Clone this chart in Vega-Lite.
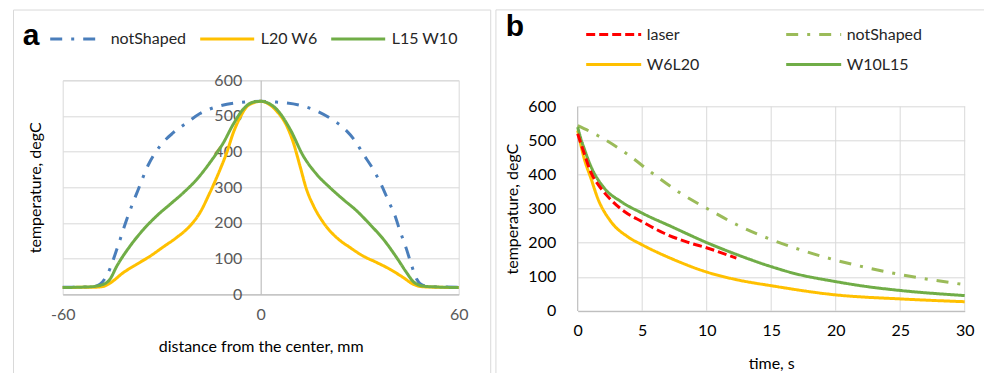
{
  "$schema": "https://vega.github.io/schema/vega-lite/v6.json",
  "background": "white",
  "padding": {"left": 11.7, "top": 8.3, "right": 0, "bottom": 0},
  "autosize": {"type": "pad"},
  "config": {
    "font": "Lato",
    "view": {"stroke": "#D9D9D9", "strokeWidth": 1},
    "axis": {
      "labelFont": "Lato", "titleFont": "Lato",
      "labelFontSize": 16, "titleFontSize": 16, "titleFontWeight": "normal",
      "titleColor": "#000000", "domainColor": "#BFBFBF", "domainWidth": 1.2,
      "gridColor": "#D9D9D9", "gridWidth": 1, "ticks": false, "tickSize": 0,
      "labelOverlap": false, "labelFlush": false, "labelExpr": "'' + datum.value"
    },
    "legend": {"padding": 0, "labelFont": "Lato", "labelFontSize": 16, "labelColor": "#262626"}
  },
  "datasets": {
    "profile": [
      {"x": -60, "T": 20, "s": "notShaped"}, {"x": -55, "T": 20, "s": "notShaped"}, {"x": -50.5, "T": 22, "s": "notShaped"},
      {"x": -48.7, "T": 28, "s": "notShaped"}, {"x": -46.2, "T": 61, "s": "notShaped"}, {"x": -43.6, "T": 126, "s": "notShaped"},
      {"x": -40.6, "T": 210, "s": "notShaped"}, {"x": -37.1, "T": 294, "s": "notShaped"}, {"x": -34, "T": 364, "s": "notShaped"},
      {"x": -30.5, "T": 416, "s": "notShaped"}, {"x": -26.5, "T": 453, "s": "notShaped"}, {"x": -22.4, "T": 481, "s": "notShaped"},
      {"x": -18.4, "T": 507, "s": "notShaped"}, {"x": -13.3, "T": 526, "s": "notShaped"}, {"x": -7.3, "T": 537, "s": "notShaped"},
      {"x": 0, "T": 541, "s": "notShaped"}, {"x": 4.8, "T": 539, "s": "notShaped"}, {"x": 11.9, "T": 530, "s": "notShaped"},
      {"x": 17, "T": 514, "s": "notShaped"}, {"x": 21.5, "T": 491, "s": "notShaped"}, {"x": 25.5, "T": 463, "s": "notShaped"},
      {"x": 28.6, "T": 430, "s": "notShaped"}, {"x": 31.1, "T": 393, "s": "notShaped"}, {"x": 34.1, "T": 350, "s": "notShaped"},
      {"x": 36.7, "T": 304, "s": "notShaped"}, {"x": 38.7, "T": 262, "s": "notShaped"}, {"x": 40.7, "T": 220, "s": "notShaped"},
      {"x": 42.2, "T": 178, "s": "notShaped"}, {"x": 44.2, "T": 126, "s": "notShaped"}, {"x": 45.8, "T": 79, "s": "notShaped"},
      {"x": 47.3, "T": 42, "s": "notShaped"}, {"x": 49.3, "T": 25, "s": "notShaped"}, {"x": 53.3, "T": 21, "s": "notShaped"},
      {"x": 60, "T": 20, "s": "notShaped"},

      {"x": -60, "T": 19, "s": "L20 W6"}, {"x": -55, "T": 19.5, "s": "L20 W6"}, {"x": -50, "T": 20, "s": "L20 W6"},
      {"x": -47.7, "T": 22, "s": "L20 W6"}, {"x": -45.7, "T": 31, "s": "L20 W6"}, {"x": -41.6, "T": 61, "s": "L20 W6"},
      {"x": -37.6, "T": 84, "s": "L20 W6"}, {"x": -33.5, "T": 107, "s": "L20 W6"}, {"x": -29.5, "T": 133, "s": "L20 W6"},
      {"x": -25.5, "T": 159, "s": "L20 W6"}, {"x": -21.4, "T": 192, "s": "L20 W6"}, {"x": -18.4, "T": 229, "s": "L20 W6"},
      {"x": -15.4, "T": 285, "s": "L20 W6"}, {"x": -12.3, "T": 350, "s": "L20 W6"}, {"x": -10.3, "T": 397, "s": "L20 W6"},
      {"x": -8.3, "T": 453, "s": "L20 W6"}, {"x": -6.3, "T": 495, "s": "L20 W6"}, {"x": -3.7, "T": 530, "s": "L20 W6"},
      {"x": 0, "T": 541, "s": "L20 W6"}, {"x": 4.8, "T": 514, "s": "L20 W6"}, {"x": 7.9, "T": 472, "s": "L20 W6"},
      {"x": 9.9, "T": 425, "s": "L20 W6"}, {"x": 11.9, "T": 360, "s": "L20 W6"}, {"x": 13.9, "T": 294, "s": "L20 W6"},
      {"x": 16, "T": 248, "s": "L20 W6"}, {"x": 19, "T": 201, "s": "L20 W6"}, {"x": 23, "T": 159, "s": "L20 W6"},
      {"x": 27.1, "T": 131, "s": "L20 W6"}, {"x": 31.1, "T": 107, "s": "L20 W6"}, {"x": 35.2, "T": 89, "s": "L20 W6"},
      {"x": 39.2, "T": 70, "s": "L20 W6"}, {"x": 43.2, "T": 47, "s": "L20 W6"}, {"x": 46.3, "T": 28, "s": "L20 W6"},
      {"x": 49.3, "T": 21, "s": "L20 W6"}, {"x": 55, "T": 19.5, "s": "L20 W6"}, {"x": 60, "T": 19, "s": "L20 W6"},

      {"x": -60, "T": 19, "s": "L15 W10"}, {"x": -51.7, "T": 21, "s": "L15 W10"}, {"x": -47.7, "T": 28, "s": "L15 W10"},
      {"x": -45.7, "T": 42, "s": "L15 W10"}, {"x": -43.6, "T": 79, "s": "L15 W10"}, {"x": -39.6, "T": 135, "s": "L15 W10"},
      {"x": -35.5, "T": 182, "s": "L15 W10"}, {"x": -31.5, "T": 220, "s": "L15 W10"}, {"x": -27.5, "T": 252, "s": "L15 W10"},
      {"x": -23.4, "T": 285, "s": "L15 W10"}, {"x": -19.4, "T": 322, "s": "L15 W10"}, {"x": -15.4, "T": 369, "s": "L15 W10"},
      {"x": -11.3, "T": 425, "s": "L15 W10"}, {"x": -8.3, "T": 477, "s": "L15 W10"}, {"x": -5.3, "T": 519, "s": "L15 W10"},
      {"x": -2.2, "T": 539, "s": "L15 W10"}, {"x": 0, "T": 541, "s": "L15 W10"}, {"x": 4.8, "T": 519, "s": "L15 W10"},
      {"x": 8.9, "T": 463, "s": "L15 W10"}, {"x": 12.9, "T": 388, "s": "L15 W10"}, {"x": 17, "T": 336, "s": "L15 W10"},
      {"x": 21, "T": 299, "s": "L15 W10"}, {"x": 25, "T": 266, "s": "L15 W10"}, {"x": 29.1, "T": 234, "s": "L15 W10"},
      {"x": 33.1, "T": 196, "s": "L15 W10"}, {"x": 37.2, "T": 154, "s": "L15 W10"}, {"x": 41.2, "T": 103, "s": "L15 W10"},
      {"x": 44.2, "T": 61, "s": "L15 W10"}, {"x": 46.3, "T": 35, "s": "L15 W10"}, {"x": 49.3, "T": 23, "s": "L15 W10"},
      {"x": 53.3, "T": 20.5, "s": "L15 W10"}, {"x": 60, "T": 19, "s": "L15 W10"}
    ],
    "cooling": [
      {"t": 0, "T": 544, "s": "notShaped"}, {"t": 1.55, "T": 515, "s": "notShaped"}, {"t": 3.75, "T": 463, "s": "notShaped"},
      {"t": 5.8, "T": 404, "s": "notShaped"}, {"t": 8, "T": 345, "s": "notShaped"}, {"t": 10.2, "T": 297, "s": "notShaped"},
      {"t": 12.5, "T": 250, "s": "notShaped"}, {"t": 14.9, "T": 211, "s": "notShaped"}, {"t": 17.3, "T": 179, "s": "notShaped"},
      {"t": 19.9, "T": 150, "s": "notShaped"}, {"t": 22.4, "T": 127, "s": "notShaped"}, {"t": 24.9, "T": 107.5, "s": "notShaped"},
      {"t": 27.5, "T": 91, "s": "notShaped"}, {"t": 30, "T": 77, "s": "notShaped"},

      {"t": 0, "T": 530, "s": "W6L20"}, {"t": 0.5, "T": 448, "s": "W6L20"}, {"t": 1.03, "T": 389, "s": "W6L20"},
      {"t": 1.55, "T": 331, "s": "W6L20"}, {"t": 2.58, "T": 262, "s": "W6L20"}, {"t": 3.87, "T": 218, "s": "W6L20"},
      {"t": 5, "T": 194, "s": "W6L20"}, {"t": 7.24, "T": 154, "s": "W6L20"}, {"t": 10.1, "T": 113, "s": "W6L20"},
      {"t": 12.4, "T": 91, "s": "W6L20"}, {"t": 15, "T": 74, "s": "W6L20"}, {"t": 20, "T": 47, "s": "W6L20"},
      {"t": 25.1, "T": 35, "s": "W6L20"}, {"t": 30, "T": 27, "s": "W6L20"},

      {"t": 0, "T": 540, "s": "W10L15"}, {"t": 0.25, "T": 505, "s": "W10L15"}, {"t": 0.5, "T": 477, "s": "W10L15"},
      {"t": 1.03, "T": 424, "s": "W10L15"}, {"t": 2.07, "T": 360, "s": "W10L15"}, {"t": 3.36, "T": 321, "s": "W10L15"},
      {"t": 5, "T": 287, "s": "W10L15"}, {"t": 7.24, "T": 248, "s": "W10L15"}, {"t": 10.1, "T": 199, "s": "W10L15"},
      {"t": 12.4, "T": 164.5, "s": "W10L15"}, {"t": 15, "T": 130, "s": "W10L15"}, {"t": 16.8, "T": 110, "s": "W10L15"},
      {"t": 20, "T": 86, "s": "W10L15"}, {"t": 22.5, "T": 71, "s": "W10L15"}, {"t": 25.1, "T": 59.6, "s": "W10L15"},
      {"t": 30, "T": 45, "s": "W10L15"},

      {"t": 0, "T": 520, "s": "laser"}, {"t": 0.5, "T": 463, "s": "laser"}, {"t": 1, "T": 409, "s": "laser"},
      {"t": 1.8, "T": 360, "s": "laser"}, {"t": 2.58, "T": 326, "s": "laser"}, {"t": 3.62, "T": 292, "s": "laser"},
      {"t": 5, "T": 262, "s": "laser"}, {"t": 6.7, "T": 228, "s": "laser"}, {"t": 8.5, "T": 202, "s": "laser"},
      {"t": 10.1, "T": 184, "s": "laser"}, {"t": 12.3, "T": 155, "s": "laser"}
    ]
  },
  "resolve": {
    "scale": {"color": "independent", "strokeDash": "independent"},
    "legend": {"color": "independent", "strokeDash": "independent"}
  },
  "columns": 2,
  "spacing": 2,
  "concat": [
    {
      "width": 396,
      "height": 214,
      "layer": [
        {
          "data": {"values": [{}]},
          "mark": {"type": "rect", "fill": "transparent", "stroke": "#D9D9D9", "strokeWidth": 1},
          "encoding": {
            "x": {
              "datum": -74.9, "type": "quantitative",
              "scale": {"domain": [-60, 60], "nice": false, "zero": false},
              "axis": {
                "title": "distance from the center, mm", "values": [-60, 0, 60], "grid": false,
                "labelColor": "#595959", "labelPadding": 12, "titlePadding": 16
              }
            },
            "x2": {"datum": 69.7},
            "y": {
              "datum": 797, "type": "quantitative",
              "scale": {"domain": [0, 600], "nice": false},
              "axis": {
                "title": "temperature, degC", "values": [0, 100, 200, 300, 400, 500, 600],
                "offset": -198, "labelColor": "#595959", "labelPadding": 19, "grid": true,
                "titleX": -217, "titleY": 107
              }
            },
            "y2": {"datum": -253}
          }
        },
        {
          "data": {"name": "profile"},
          "mark": {"type": "line", "strokeWidth": 3, "interpolate": "monotone"},
          "encoding": {
            "x": {
              "field": "x", "type": "quantitative",
              "scale": {"domain": [-60, 60], "nice": false, "zero": false},
              "axis": {
                "title": "distance from the center, mm", "values": [-60, 0, 60], "grid": false,
                "labelColor": "#595959", "labelPadding": 12, "titlePadding": 16
              }
            },
            "y": {
              "field": "T", "type": "quantitative",
              "scale": {"domain": [0, 600], "nice": false},
              "axis": {
                "title": "temperature, degC", "values": [0, 100, 200, 300, 400, 500, 600],
                "offset": -198, "labelColor": "#595959", "labelPadding": 19, "grid": true,
                "titleX": -217, "titleY": 107
              }
            },
            "color": {
              "field": "s", "type": "nominal",
              "scale": {"domain": ["notShaped", "L20 W6", "L15 W10"], "range": ["#4A7EBB", "#FFC000", "#70AD47"]},
              "legend": {
                "title": "a", "orient": "none", "legendX": -40, "legendY": -50.2, "direction": "horizontal",
                "titleOrient": "left", "titleAnchor": "start", "titleBaseline": "line-top", "titleLineHeight": 11.6,
                "titleFontSize": 30, "titleFont": "Liberation Sans", "titleFontWeight": "bold",
                "titleColor": "#000000", "titlePadding": 9, "symbolType": "stroke", "symbolSize": 2916,
                "symbolStrokeWidth": 3, "labelOffset": 5, "columnPadding": 12, "clipHeight": 18
              }
            },
            "strokeDash": {
              "field": "s", "type": "nominal",
              "scale": {"domain": ["notShaped", "L20 W6", "L15 W10"], "range": [[12, 9, 3, 9], [1, 0], [1, 0]]},
              "legend": {
                "title": "a", "orient": "none", "legendX": -40, "legendY": -50.2, "direction": "horizontal",
                "titleOrient": "left", "titleAnchor": "start", "titleBaseline": "line-top", "titleLineHeight": 11.6,
                "titleFontSize": 30, "titleFont": "Liberation Sans", "titleFontWeight": "bold",
                "titleColor": "#000000", "titlePadding": 9, "symbolType": "stroke", "symbolSize": 2916,
                "symbolStrokeWidth": 3, "labelOffset": 5, "columnPadding": 12, "clipHeight": 18
              }
            }
          }
        }
      ]
    },
    {
      "width": 387,
      "height": 230.6,
      "view": {"stroke": null},
      "layer": [
        {
          "data": {"values": [{}]},
          "mark": {"type": "rect", "fill": "transparent", "stroke": "#D9D9D9", "strokeWidth": 1},
          "encoding": {
            "x": {
              "datum": -6.34, "type": "quantitative",
              "scale": {"domain": [0, 30], "nice": false, "zero": false},
              "axis": {
                "title": "time, s", "values": [0, 5, 10, 15, 20, 25, 30], "grid": false,
                "labelColor": "#000000", "labelPadding": 12, "titlePadding": 17
              }
            },
            "x2": {"datum": 33.5},
            "y": {
              "datum": 884, "type": "quantitative",
              "scale": {"domain": [0, 677.2], "nice": false},
              "axis": {
                "title": "temperature, degC", "values": [0, 100, 200, 300, 400, 500, 600], "grid": true,
                "domain": false, "labelColor": "#000000", "labelPadding": 22,
                "titleX": -57, "titleY": 128.3
              }
            },
            "y2": {"datum": -220}
          }
        },
        {
          "data": {"values": [{"t": 5}, {"t": 10}, {"t": 15}, {"t": 20}, {"t": 25}, {"t": 30}]},
          "mark": {"type": "rule", "color": "#D9D9D9", "strokeWidth": 1},
          "encoding": {
            "x": {
              "field": "t", "type": "quantitative",
              "scale": {"domain": [0, 30], "nice": false, "zero": false},
              "axis": {
                "title": "time, s", "values": [0, 5, 10, 15, 20, 25, 30], "grid": false,
                "labelColor": "#000000", "labelPadding": 12, "titlePadding": 17
              }
            },
            "y": {
              "datum": 0, "type": "quantitative",
              "scale": {"domain": [0, 677.2], "nice": false},
              "axis": {
                "title": "temperature, degC", "values": [0, 100, 200, 300, 400, 500, 600], "grid": true,
                "domain": false, "labelColor": "#000000", "labelPadding": 22,
                "titleX": -57, "titleY": 128.3
              }
            },
            "y2": {"datum": 600}
          }
        },
        {
          "data": {"values": [{}]},
          "mark": {"type": "rule", "color": "#BFBFBF", "strokeWidth": 1.2},
          "encoding": {
            "x": {
              "datum": 0, "type": "quantitative",
              "scale": {"domain": [0, 30], "nice": false, "zero": false},
              "axis": {
                "title": "time, s", "values": [0, 5, 10, 15, 20, 25, 30], "grid": false,
                "labelColor": "#000000", "labelPadding": 12, "titlePadding": 17
              }
            },
            "y": {
              "datum": 0, "type": "quantitative",
              "scale": {"domain": [0, 677.2], "nice": false},
              "axis": {
                "title": "temperature, degC", "values": [0, 100, 200, 300, 400, 500, 600], "grid": true,
                "domain": false, "labelColor": "#000000", "labelPadding": 22,
                "titleX": -57, "titleY": 128.3
              }
            },
            "y2": {"datum": 600}
          }
        },
        {
          "data": {"name": "cooling"},
          "mark": {"type": "line", "strokeWidth": 3, "interpolate": "monotone"},
          "encoding": {
            "x": {
              "field": "t", "type": "quantitative",
              "scale": {"domain": [0, 30], "nice": false, "zero": false},
              "axis": {
                "title": "time, s", "values": [0, 5, 10, 15, 20, 25, 30], "grid": false,
                "labelColor": "#000000", "labelPadding": 12, "titlePadding": 17
              }
            },
            "y": {
              "field": "T", "type": "quantitative",
              "scale": {"domain": [0, 677.2], "nice": false},
              "axis": {
                "title": "temperature, degC", "values": [0, 100, 200, 300, 400, 500, 600], "grid": true,
                "domain": false, "labelColor": "#000000", "labelPadding": 22,
                "titleX": -57, "titleY": 128.3
              }
            },
            "strokeWidth": {"condition": {"test": "datum.s === 'laser'", "value": 4}, "value": 3},
            "color": {
              "field": "s", "type": "nominal",
              "scale": {"domain": ["laser", "W6L20", "notShaped", "W10L15"], "range": ["#FF0000", "#FFC000", "#9BBB59", "#70AD47"]},
              "legend": {
                "title": "b", "orient": "none", "legendX": -72, "legendY": -54.7, "columns": 2,
                "titleOrient": "left", "titleAnchor": "start", "titleBaseline": "line-top", "titleLineHeight": 2.6,
                "titleFontSize": 30, "titleFont": "Liberation Sans", "titleFontWeight": "bold",
                "titleColor": "#000000", "titlePadding": 60, "symbolType": "stroke", "symbolSize": 3025,
                "symbolStrokeWidth": 3, "labelOffset": 4, "columnPadding": 85, "rowPadding": 12, "clipHeight": 18
              }
            },
            "strokeDash": {
              "field": "s", "type": "nominal",
              "scale": {"domain": ["laser", "W6L20", "notShaped", "W10L15"], "range": [[9, 4], [1, 0], [12, 9, 3, 9], [1, 0]]},
              "legend": {
                "title": "b", "orient": "none", "legendX": -72, "legendY": -54.7, "columns": 2,
                "titleOrient": "left", "titleAnchor": "start", "titleBaseline": "line-top", "titleLineHeight": 2.6,
                "titleFontSize": 30, "titleFont": "Liberation Sans", "titleFontWeight": "bold",
                "titleColor": "#000000", "titlePadding": 60, "symbolType": "stroke", "symbolSize": 3025,
                "symbolStrokeWidth": 3, "labelOffset": 4, "columnPadding": 85, "rowPadding": 12, "clipHeight": 18
              }
            }
          }
        }
      ]
    }
  ]
}
